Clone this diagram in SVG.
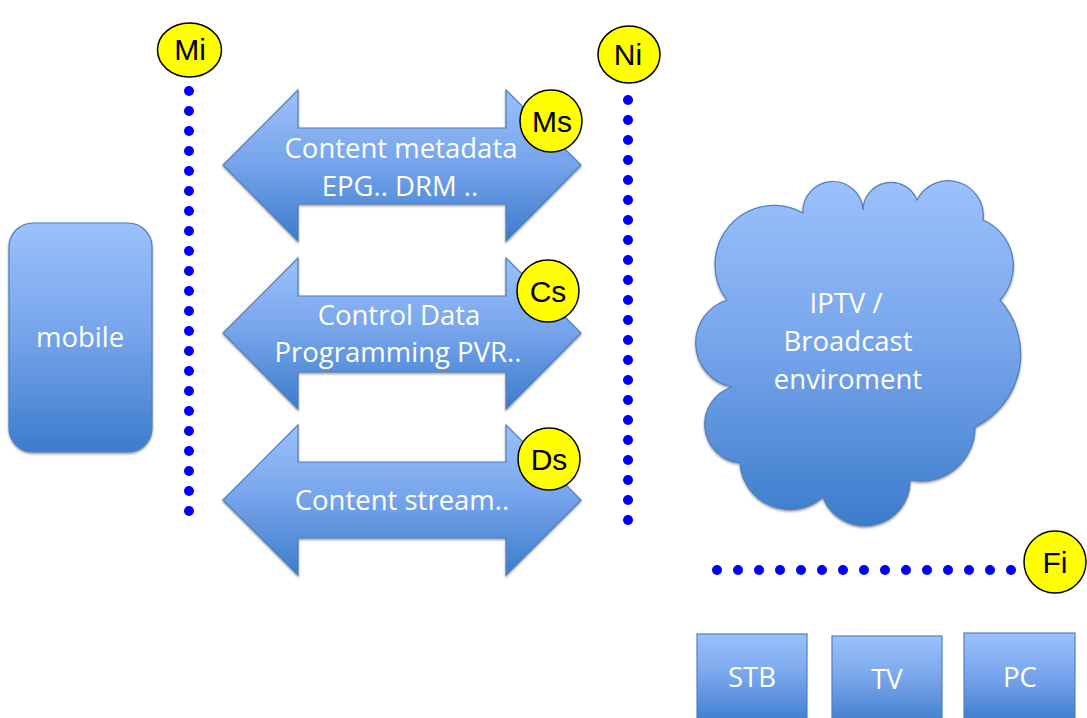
<svg xmlns="http://www.w3.org/2000/svg" width="1087" height="718" viewBox="0 0 1087 718">
<defs>
<linearGradient id="blue" x1="0" y1="0" x2="0" y2="1">
<stop offset="0" stop-color="#9cc1fc"/>
<stop offset="0.5" stop-color="#75a3ea"/>
<stop offset="1" stop-color="#3c7ccc"/>
</linearGradient>
<filter id="sh" x="-5%" y="-5%" width="110%" height="115%">
<feDropShadow dx="0" dy="1.5" stdDeviation="0.8" flood-color="#555" flood-opacity="0.6"/>
</filter>
</defs>
<style>
.shape{fill:url(#blue);stroke:#4f81bd;stroke-width:1.2;}
.lbl{font-family:"Open Sans","Noto Sans",sans-serif;font-size:27.5px;fill:#ffffff;text-anchor:middle;}
.badge{fill:#ffff00;stroke:#000;stroke-width:1.5;}
.btxt{font-family:"Liberation Sans",Arial,sans-serif;font-size:30px;fill:#000;text-anchor:middle;}
.dot{fill:#0000ff;}
</style>
<rect width="1087" height="718" fill="#ffffff"/>

<g id="connectors">
<g id="mi-line" class="dot">
<circle cx="189" cy="91" r="5"/><circle cx="189" cy="111" r="5"/><circle cx="189" cy="131" r="5"/><circle cx="189" cy="151" r="5"/><circle cx="189" cy="171" r="5"/><circle cx="189" cy="191" r="5"/><circle cx="189" cy="211" r="5"/><circle cx="189" cy="231" r="5"/><circle cx="189" cy="251" r="5"/><circle cx="189" cy="271" r="5"/><circle cx="189" cy="291" r="5"/><circle cx="189" cy="311" r="5"/><circle cx="189" cy="331" r="5"/><circle cx="189" cy="351" r="5"/><circle cx="189" cy="371" r="5"/><circle cx="189" cy="391" r="5"/><circle cx="189" cy="411" r="5"/><circle cx="189" cy="431" r="5"/><circle cx="189" cy="451" r="5"/><circle cx="189" cy="471" r="5"/><circle cx="189" cy="491" r="5"/><circle cx="189" cy="511" r="5"/>
</g>
<g id="ni-line" class="dot">
<circle cx="628" cy="100" r="5"/><circle cx="628" cy="120" r="5"/><circle cx="628" cy="140" r="5"/><circle cx="628" cy="160" r="5"/><circle cx="628" cy="180" r="5"/><circle cx="628" cy="200" r="5"/><circle cx="628" cy="220" r="5"/><circle cx="628" cy="240" r="5"/><circle cx="628" cy="260" r="5"/><circle cx="628" cy="280" r="5"/><circle cx="628" cy="300" r="5"/><circle cx="628" cy="320" r="5"/><circle cx="628" cy="340" r="5"/><circle cx="628" cy="360" r="5"/><circle cx="628" cy="380" r="5"/><circle cx="628" cy="400" r="5"/><circle cx="628" cy="420" r="5"/><circle cx="628" cy="440" r="5"/><circle cx="628" cy="460" r="5"/><circle cx="628" cy="480" r="5"/><circle cx="628" cy="500" r="5"/><circle cx="628" cy="520" r="5"/>
</g>
<g id="fi-line" class="dot">
<circle cx="717" cy="570" r="5"/><circle cx="738" cy="570" r="5"/><circle cx="759" cy="570" r="5"/><circle cx="780" cy="570" r="5"/><circle cx="801" cy="570" r="5"/><circle cx="822" cy="570" r="5"/><circle cx="843" cy="570" r="5"/><circle cx="864" cy="570" r="5"/><circle cx="885" cy="570" r="5"/><circle cx="906" cy="570" r="5"/><circle cx="927" cy="570" r="5"/><circle cx="948" cy="570" r="5"/><circle cx="969" cy="570" r="5"/><circle cx="990" cy="570" r="5"/><circle cx="1011" cy="570" r="5"/>
</g>
</g>

<g id="mobile">
<rect class="shape" filter="url(#sh)" x="9" y="223" width="143" height="229" rx="24" ry="24"/>
<text class="lbl" x="80" y="347">mobile</text>
</g>

<g id="arrow-metadata">
<path class="shape" filter="url(#sh)" d="M223,165 L298,90 L298,128 L506,128 L506,90 L581,165 L506,241 L506,204 L298,204 L298,241 Z"/>
<text class="lbl" x="401" y="158">Content metadata</text>
<text class="lbl" x="400" y="196">EPG.. DRM ..</text>
</g>

<g id="arrow-control">
<path class="shape" filter="url(#sh)" d="M223,333 L298,258 L298,296 L506,296 L506,258 L581,333 L506,409 L506,372 L298,372 L298,409 Z"/>
<text class="lbl" x="399" y="325">Control Data</text>
<text class="lbl" x="398" y="362">Programming PVR..</text>
</g>

<g id="arrow-stream">
<path class="shape" filter="url(#sh)" d="M223,500 L298,425 L298,462 L506,462 L506,425 L581,500 L506,575 L506,538 L298,538 L298,575 Z"/>
<text class="lbl" x="402" y="510">Content stream..</text>
</g>

<g id="cloud">
<path class="shape" filter="url(#sh)" d="M727,300 A59,59 0 0 1 803,213 A30,30 0 0 1 863,210 A28,28 0 0 1 917,200 A35,35 0 0 1 983,220 A50,50 0 0 1 1000,300 A81,81 0 0 1 975,427 A54,54 0 0 1 910,480 A45,45 0 0 1 823,497 A50,50 0 0 1 740,463 A39,39 0 0 1 732,387 A45,45 0 0 1 727,300 Z"/>
<text class="lbl" x="846" y="313">IPTV /</text>
<text class="lbl" x="848" y="351">Broadcast</text>
<text class="lbl" x="848" y="389">enviroment</text>
</g>

<g id="stb">
<rect class="shape" x="697" y="634" width="110" height="90"/>
<text class="lbl" x="752" y="687">STB</text>
</g>
<g id="tv">
<rect class="shape" x="832" y="636" width="110" height="90"/>
<text class="lbl" x="887" y="689">TV</text>
</g>
<g id="pc">
<rect class="shape" x="964" y="633" width="111" height="90"/>
<text class="lbl" x="1020" y="687">PC</text>
</g>

<g id="badge-mi">
<ellipse class="badge" cx="189.5" cy="50" rx="32" ry="27"/>
<text class="btxt" x="190" y="60">Mi</text>
</g>
<g id="badge-ni">
<ellipse class="badge" cx="629" cy="54.5" rx="31" ry="28.5"/>
<text class="btxt" x="628" y="65">Ni</text>
</g>
<g id="badge-ms">
<circle class="badge" cx="551" cy="121" r="31"/>
<text class="btxt" x="552" y="132">Ms</text>
</g>
<g id="badge-cs">
<circle class="badge" cx="548" cy="291" r="31"/>
<text class="btxt" x="548" y="302">Cs</text>
</g>
<g id="badge-ds">
<circle class="badge" cx="549" cy="459" r="31"/>
<text class="btxt" x="549" y="470">Ds</text>
</g>
<g id="badge-fi">
<circle class="badge" cx="1055" cy="562" r="31"/>
<text class="btxt" x="1055" y="573">Fi</text>
</g>
</svg>
